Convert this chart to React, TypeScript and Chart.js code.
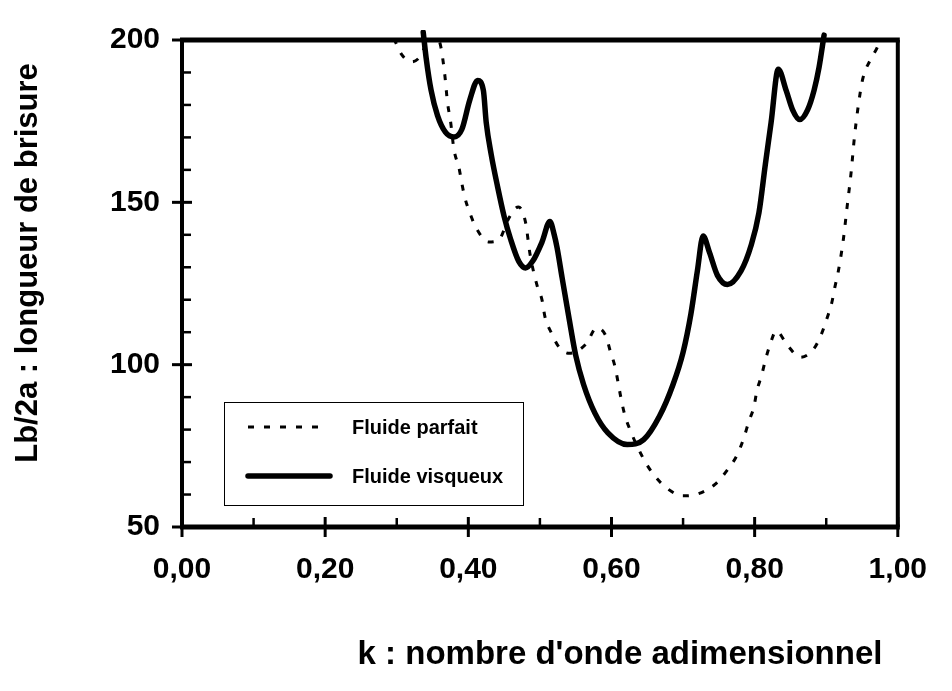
import React, { useEffect, useRef } from 'react';
import { Chart, registerables } from 'chart.js';

Chart.register(...registerables);

// ---- data ----
const kParfait = [
  0.296, 0.307, 0.321, 0.333, 0.344, 0.352, 0.361, 0.367, 0.371, 0.375, 0.38, 0.387, 0.391, 0.395,
  0.402, 0.412, 0.428, 0.442, 0.457, 0.47, 0.48, 0.486, 0.496, 0.503, 0.507, 0.516, 0.527, 0.541,
  0.565, 0.579, 0.592, 0.598, 0.605, 0.609, 0.613, 0.618, 0.626, 0.645, 0.659, 0.679, 0.7, 0.721,
  0.745, 0.762, 0.776, 0.785, 0.792, 0.799, 0.803, 0.81, 0.815, 0.822, 0.83, 0.846, 0.864, 0.883,
  0.894, 0.901, 0.908, 0.912, 0.917, 0.924, 0.929, 0.935, 0.939, 0.944, 0.951, 0.962, 0.971, 0.978,
];
const lbParfait = [
  200.5, 195.5, 193.3, 195.0, 200.3, 202.0, 198.5, 189.5, 180.6, 175.2, 166.2, 160.6, 155.8, 151.6,
  146.8, 141.7, 137.8, 138.3, 145.3, 148.6, 143.8, 134.3, 124.4, 119.9, 114.8, 109.8, 105.3, 103.5,
  106.5, 111.3, 108.9, 104.4, 99.3, 94.8, 90.0, 85.0, 79.9, 70.9, 66.1, 61.7, 59.6, 60.2,
  63.2, 67.6, 72.4, 77.5, 82.6, 87.0, 91.8, 96.9, 101.4, 106.5, 110.4, 105.9, 102.3, 105.0,
  109.8, 114.2, 119.3, 123.8, 128.9, 138.7, 148.3, 159.7, 169.2, 178.5, 188.0, 194.0, 197.6, 201.5,
];

const kVisqueux = [
  0.337, 0.341, 0.348, 0.357, 0.368, 0.38, 0.391, 0.402, 0.413, 0.421, 0.425, 0.432, 0.441, 0.45,
  0.459, 0.4705, 0.48, 0.49, 0.503, 0.514, 0.52, 0.524, 0.531, 0.541, 0.55, 0.561, 0.577, 0.595,
  0.622, 0.645, 0.667, 0.686, 0.7, 0.711, 0.72, 0.728, 0.737, 0.748, 0.762, 0.781, 0.795, 0.806,
  0.815, 0.823, 0.833, 0.844, 0.853, 0.863, 0.874, 0.883, 0.89, 0.897,
];
const lbVisqueux = [
  202.4, 194.6, 184.5, 176.7, 171.6, 170.1, 172.5, 181.5, 187.5, 184.5, 174.6, 164.7, 154.7, 145.7,
  138.7, 131.8, 129.8, 131.9, 137.8, 144.1, 140.0, 136.0, 126.8, 113.9, 102.9, 93.9, 85.0, 79.0,
  75.4, 76.9, 84.1, 93.9, 103.8, 115.7, 128.9, 139.6, 134.5, 127.5, 124.7, 128.9, 136.7, 146.8,
  161.8, 174.6, 191.0, 184.5, 178.5, 175.5, 178.5, 184.5, 191.6, 201.5,
];

const xTicks = [0, 0.2, 0.4, 0.6, 0.8, 1.0];
const xMinorTicks = [0.1, 0.3, 0.5, 0.7, 0.9];
const yTicks = [50, 100, 150, 200];
const yMinorTicks = [60, 70, 80, 90, 110, 120, 130, 140, 160, 170, 180, 190];
const seriesLabels = ['Fluide parfait', 'Fluide visqueux'];
const xTitle = "k : nombre d'onde adimensionnel";
const yTitle = 'Lb/2a : longueur de brisure';

const FONT = '"Liberation Sans", Arial, Helvetica, sans-serif';

const framePlugin = {
  id: 'framePlugin',
  afterDatasetsDraw(chart: any) {
    const { ctx, chartArea, scales } = chart;
    const { left, top, right, bottom } = chartArea;
    const xs = scales.x;
    const ys = scales.y;
    const line = (x1: number, y1: number, x2: number, y2: number) => {
      ctx.beginPath();
      ctx.moveTo(x1, y1);
      ctx.lineTo(x2, y2);
      ctx.stroke();
    };
    ctx.save();
    ctx.strokeStyle = '#000';
    ctx.lineCap = 'butt';
    ctx.setLineDash([]);
    // frame
    ctx.lineWidth = 5;
    line(left - 2, top, right + 2, top);
    line(left - 2, bottom, right + 2, bottom);
    ctx.lineWidth = 4;
    line(left, top, left, bottom);
    line(right, top, right, bottom);
    // x ticks
    ctx.lineWidth = 3;
    xTicks.forEach((v) => {
      const px = xs.getPixelForValue(v);
      line(px, bottom - 10, px, bottom + 10);
    });
    ctx.lineWidth = 2.5;
    xMinorTicks.forEach((v) => {
      const px = xs.getPixelForValue(v);
      line(px, bottom, px, bottom - 9);
    });
    // y ticks
    ctx.lineWidth = 3;
    yTicks.forEach((v) => {
      const py = ys.getPixelForValue(v);
      line(left - 10, py, left + 10, py);
    });
    ctx.lineWidth = 2.5;
    yMinorTicks.forEach((v) => {
      const py = ys.getPixelForValue(v);
      line(left, py, left + 9, py);
    });

    // legend box
    const lx = 224, ly = 402, lw = 299, lh = 103;
    ctx.fillStyle = '#fff';
    ctx.fillRect(lx, ly, lw, lh);
    ctx.lineWidth = 1;
    ctx.strokeRect(lx + 0.5, ly + 0.5, lw, lh);
    const ds = chart.data.datasets;
    const rows = [ly + 25, ly + 74];
    ds.forEach((d: any, i: number) => {
      const yy = rows[i];
      ctx.lineWidth = d.borderWidth;
      ctx.setLineDash(d.borderDash || []);
      ctx.lineCap = i === 1 ? 'round' : 'butt';
      line(lx + 24, yy, lx + (i === 1 ? 106 : 94), yy);
      ctx.setLineDash([]);
      ctx.fillStyle = '#000';
      ctx.font = `bold 20px ${FONT}`;
      ctx.textAlign = 'left';
      ctx.textBaseline = 'middle';
      ctx.fillText(d.label, lx + 128, yy + 1);
    });
    ctx.restore();
  },
  afterDraw(chart: any) {
    const { ctx } = chart;
    ctx.save();
    ctx.fillStyle = '#000';
    ctx.textAlign = 'center';
    ctx.textBaseline = 'middle';
    ctx.font = `bold 33px ${FONT}`;
    ctx.fillText(xTitle, 620, 655);
    ctx.translate(28, 263);
    ctx.rotate(-Math.PI / 2);
    ctx.font = `bold 31px ${FONT}`;
    ctx.fillText(yTitle, 0, 0);
    ctx.restore();
  },
};

export default function App() {
  const ref = useRef<HTMLCanvasElement | null>(null);
  useEffect(() => {
    if (!ref.current) return;
    const tickFont = { family: FONT, size: 30, weight: 'bold' as const };
    const chart = new Chart(ref.current, {
      type: 'line',
      data: {
        datasets: [
          {
            label: seriesLabels[0],
            data: kParfait.map((k, i) => ({ x: k, y: lbParfait[i] })),
            borderColor: '#000',
            borderWidth: 3,
            borderDash: [6, 10],
            borderCapStyle: 'butt',
            pointRadius: 0,
            fill: false,
            cubicInterpolationMode: 'monotone',
          },
          {
            label: seriesLabels[1],
            data: kVisqueux.map((k, i) => ({ x: k, y: lbVisqueux[i] })),
            borderColor: '#000',
            borderWidth: 5.5,
            borderCapStyle: 'round',
            borderJoinStyle: 'round',
            pointRadius: 0,
            fill: false,
            cubicInterpolationMode: 'monotone',
            clip: { left: 5, top: 10, right: 5, bottom: 5 },
          },
        ],
      },
      options: {
        responsive: false,
        animation: false,
        devicePixelRatio: 1,
        layout: { padding: { top: 25, right: 34, left: 0, bottom: 0 } },
        plugins: { legend: { display: false }, tooltip: { enabled: false } },
        scales: {
          x: {
            type: 'linear',
            min: 0,
            max: 1,
            afterBuildTicks: (s: any) => {
              s.ticks = xTicks.map((v) => ({ value: v }));
            },
            afterFit: (s: any) => {
              s.height = 164;
            },
            grid: { display: false, drawTicks: false },
            border: { display: false },
            ticks: {
              padding: 25,
              color: '#000',
              font: tickFont,
              maxRotation: 0,
              autoSkip: false,
              callback: (v: any) => Number(v).toFixed(2).replace('.', ','),
            },
          },
          y: {
            type: 'linear',
            min: 50,
            max: 200,
            afterBuildTicks: (s: any) => {
              s.ticks = yTicks.map((v) => ({ value: v }));
            },
            afterFit: (s: any) => {
              s.width = 182;
            },
            grid: { display: false, drawTicks: false },
            border: { display: false },
            ticks: {
              padding: 22,
              color: '#000',
              font: tickFont,
              autoSkip: false,
              callback: (v: any) => String(v),
            },
          },
        },
      },
      plugins: [framePlugin],
    } as any);
    return () => chart.destroy();
  }, []);
  return (
    <div style={{ position: 'absolute', left: 0, top: 0, width: 952, height: 691, background: '#fff' }}>
      <canvas ref={ref} width={952} height={691} />
    </div>
  );
}
